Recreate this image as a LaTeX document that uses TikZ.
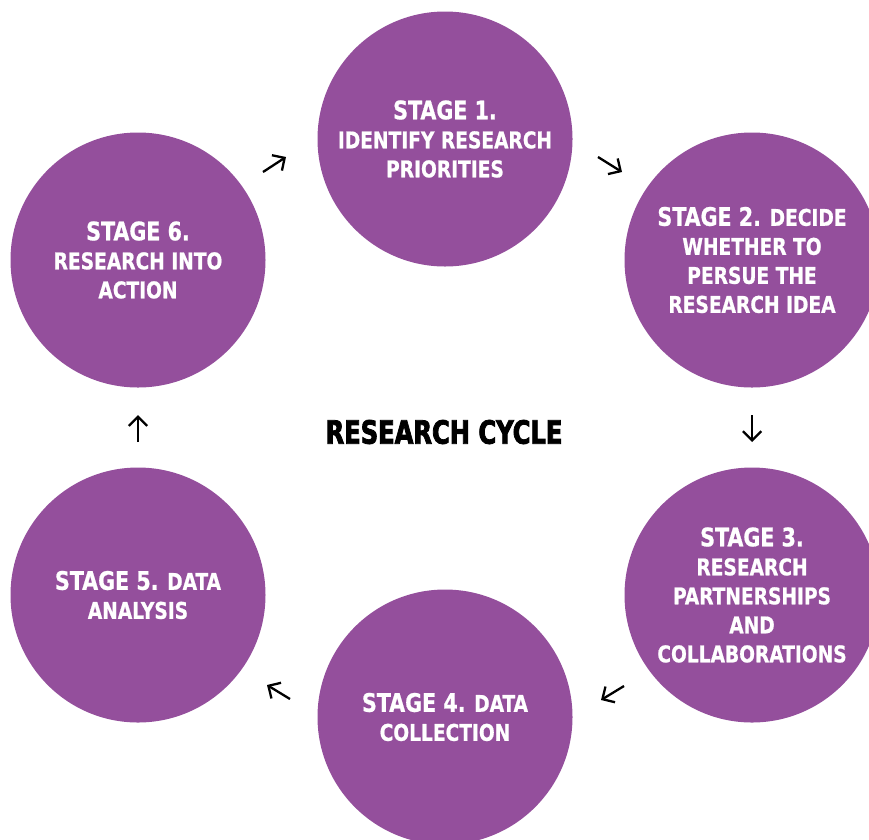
\documentclass[tikz,border=0pt]{standalone}
\usepackage{fontspec}
\setmainfont{DejaVu Sans Condensed}[FakeStretch=0.9, BoldFeatures={FakeBold=0.8}]
\newfontfamily\titlefont{DejaVu Sans Condensed}[FakeStretch=0.84, BoldFeatures={FakeBold=2.5}]
\usetikzlibrary{arrows.meta}
\definecolor{cpurple}{HTML}{944f9c}

\newcommand{\stagehead}[1]{{\fontsize{25.5}{29}\selectfont #1}}

\begin{document}
\begin{tikzpicture}[x=1pt, y=-1pt, every node/.style={font=\bfseries\fontsize{23}{29}\selectfont, align=center}, stage/.style={circle, fill=cpurple, text=white, minimum size=255pt, inner sep=0pt}, cyc/.style={-{Straight Barb[angle=90:13pt]}, line width=2.3pt}]
    \useasboundingbox (0,0) rectangle (869,839);
    \clip (0,0) rectangle (869,839);
    \node[stage] (s1) at (445,139) {\stagehead{STAGE 1.}\\ IDENTIFY RESEARCH\\ PRIORITIES};
    \node[stage] (s2) at (752,260) {\stagehead{STAGE 2.} DECIDE\\ WHETHER TO\\ PERSUE THE\\ RESEARCH IDEA};
    \node[stage] (s3) at (752,595) {\stagehead{STAGE 3.}\\ RESEARCH\\ PARTNERSHIPS\\ AND\\ COLLABORATIONS};
    \node[stage] (s4) at (445,717) {\stagehead{STAGE 4.} DATA\\ COLLECTION};
    \node[stage] (s5) at (138,595) {\stagehead{STAGE 5.} DATA\\ ANALYSIS};
    \node[stage] (s6) at (138,260) {\stagehead{STAGE 6.}\\ RESEARCH INTO\\ ACTION};
    \node[font=\titlefont\bfseries\fontsize{32}{32}\selectfont] (title) at (444,432) {RESEARCH CYCLE};
    % arrows sit in the gaps between neighbouring stages
    \coordinate (t12) at (598,157); \coordinate (h12) at (622,172);
    \coordinate (t23) at (752,415); \coordinate (h23) at (752,442);
    \coordinate (t34) at (624,686); \coordinate (h34) at (601,700);
    \coordinate (t45) at (290,699); \coordinate (h45) at (267,685);
    \coordinate (t56) at (138,442); \coordinate (h56) at (138,415);
    \coordinate (t61) at (263,172); \coordinate (h61) at (286,157);
    \draw[cyc] (t12) -- (h12);
    \draw[cyc] (t23) -- (h23);
    \draw[cyc] (t34) -- (h34);
    \draw[cyc] (t45) -- (h45);
    \draw[cyc] (t56) -- (h56);
    \draw[cyc] (t61) -- (h61);
  \end{tikzpicture}
\end{document}
